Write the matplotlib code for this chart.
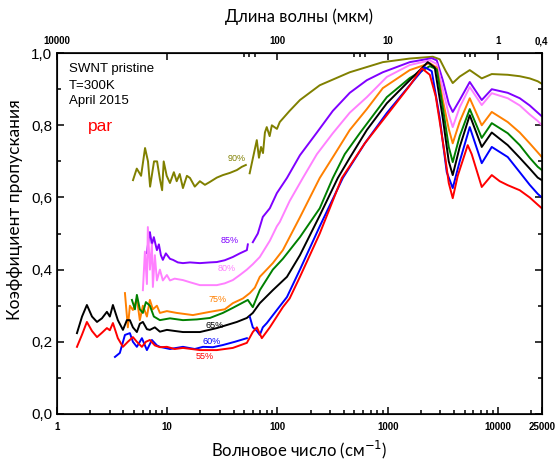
import numpy as np
import matplotlib
matplotlib.use('Agg')
import matplotlib.pyplot as plt
from matplotlib.ticker import FixedLocator, NullFormatter

plt.rcParams['font.family'] = ['Liberation Sans', 'DejaVu Sans']

# --- data (wavenumber cm^-1, transmission) ---
wn90a = [4.9, 5.3, 5.8, 6.3, 6.7, 7.0, 7.6, 8.1, 8.6, 9.0, 9.3, 9.9, 10.6, 11.5, 12.2, 13.0, 13.9, 15.1, 16.1, 17.8,
         19.8, 22.0, 24.4, 28.2, 32.0, 37.0, 42.9, 47.6, 51.7]
T90a = [0.648, 0.68, 0.66, 0.737, 0.70, 0.63, 0.70, 0.70, 0.65, 0.62, 0.70, 0.66, 0.64, 0.67, 0.645, 0.665, 0.626, 0.66,
        0.654, 0.63, 0.645, 0.635, 0.643, 0.655, 0.662, 0.668, 0.676, 0.685, 0.69]
wn90b = [56, 61, 65, 68, 71, 74, 77, 80, 85, 89, 99, 105, 129, 160, 242, 453, 903, 1585, 2565, 2965, 3365, 3890, 4500,
         5550, 7130, 8790, 12270, 15770, 19410, 22950, 25000]
T90b = [0.667, 0.72, 0.759, 0.71, 0.74, 0.723, 0.78, 0.795, 0.77, 0.80, 0.79, 0.809, 0.84, 0.87, 0.911, 0.947, 0.975,
        0.985, 0.99, 0.983, 0.95, 0.917, 0.935, 0.953, 0.93, 0.942, 0.94, 0.936, 0.93, 0.922, 0.915]

wn85a = [6.55, 6.83, 6.97, 7.27, 7.57, 8.07, 8.41, 8.77, 9.14, 9.73, 10.6, 11.3, 12.5, 13.9, 16.1, 19.8, 24.4, 28.2,
         33.3, 39.4, 45.6, 52.8, 53.9]
T85a = [0.446, 0.49, 0.504, 0.47, 0.49, 0.454, 0.47, 0.44, 0.427, 0.445, 0.43, 0.427, 0.42, 0.418, 0.42, 0.418, 0.42,
        0.421, 0.426, 0.435, 0.445, 0.454, 0.47]
wn85b = [59.8, 66.4, 73.7, 85.3, 98.8, 122, 160, 228, 318, 453, 647, 903, 1585, 2510, 2787, 3160, 3580, 3890, 4500,
         5550, 7130, 8790, 12270, 15770, 19410, 22950, 25000]
T85b = [0.476, 0.50, 0.546, 0.57, 0.612, 0.654, 0.717, 0.78, 0.84, 0.89, 0.925, 0.947, 0.975, 0.986, 0.98, 0.925, 0.86,
        0.837, 0.87, 0.92, 0.87, 0.90, 0.89, 0.875, 0.855, 0.835, 0.825]

wn80 = [6.02, 6.28, 6.55, 6.68, 6.97, 7.27, 7.42, 7.73, 8.07, 8.59, 9.14, 9.94, 10.6, 11.7, 13.9, 16.1, 19.8, 24.4,
        28.2, 33.3, 39.4, 45.6, 52.8,
        59.8, 69.2, 85.3, 98.8, 105, 129, 170, 228, 318, 453, 647, 982, 1585, 2410, 2787, 3160, 3580, 3890, 4500,
        5550, 7130, 8790, 12270, 15770, 19410, 22950, 25000]
T80 = [0.343, 0.45, 0.36, 0.518, 0.40, 0.47, 0.352, 0.44, 0.37, 0.40, 0.37, 0.385, 0.37, 0.375, 0.371, 0.365, 0.357,
       0.357, 0.357, 0.362, 0.371, 0.385, 0.40,
       0.415, 0.435, 0.48, 0.52, 0.532, 0.59, 0.654, 0.72, 0.778, 0.835, 0.878, 0.934, 0.967, 0.98, 0.97, 0.90, 0.83,
       0.795, 0.85, 0.906, 0.856, 0.889, 0.875, 0.855, 0.83, 0.812, 0.80]

wn75 = [4.14, 4.40, 4.59, 4.89, 5.31, 5.65, 6.02, 6.55, 6.97, 7.42, 8.07, 8.59, 9.94, 12.2, 17.1, 24.4, 33.3, 39.4,
        48.6, 56.2, 62.4, 69.2, 90.8, 112, 160, 242, 331, 453, 647, 903, 1585, 2410, 2787, 3160, 3580, 3890, 4500,
        5550, 7130, 8790, 12270, 15770, 19410, 22950, 25000]
T75 = [0.335, 0.24, 0.30, 0.288, 0.32, 0.26, 0.30, 0.27, 0.316, 0.29, 0.30, 0.28, 0.285, 0.28, 0.274, 0.283, 0.29,
       0.307, 0.32, 0.335, 0.35, 0.38, 0.418, 0.454, 0.545, 0.654, 0.72, 0.787, 0.845, 0.903, 0.953, 0.972, 0.96,
       0.87, 0.79, 0.75, 0.81, 0.875, 0.80, 0.837, 0.809, 0.78, 0.75, 0.725, 0.712]

wn70 = [4.79, 5.10, 5.31, 5.65, 6.02, 6.41, 6.97, 7.57, 8.59, 10.6, 13.9, 18.6, 24.4, 32.0, 39.4, 53.9, 59.8, 69.2,
        90.8, 112, 160, 242, 318, 408, 558, 982, 1585, 2410, 2787, 3160, 3580, 3890, 4500, 5550, 7130, 8790, 12270,
        15770, 19410, 22950, 25000]
T70 = [0.316, 0.29, 0.33, 0.29, 0.28, 0.31, 0.30, 0.27, 0.26, 0.265, 0.26, 0.262, 0.266, 0.28, 0.294, 0.316, 0.296,
       0.343, 0.40, 0.43, 0.49, 0.57, 0.654, 0.72, 0.778, 0.878, 0.931, 0.964, 0.955, 0.85, 0.74, 0.698, 0.77, 0.845,
       0.765, 0.806, 0.778, 0.745, 0.71, 0.685, 0.676]

wn65 = [1.52, 1.69, 1.87, 2.08, 2.31, 2.56, 2.84, 3.02, 3.22, 3.57, 3.97, 4.31, 4.59, 4.89, 5.31, 5.65, 6.02, 6.55,
        6.97, 7.73, 8.59, 9.94, 11.7, 13.9, 19.8, 28.2, 42.9, 52.8, 59.8, 69.2, 90.8, 122, 160, 242, 353, 453, 647,
        982, 1585, 2310, 2673, 3160, 3580, 3890, 4500, 5550, 7130, 8790, 12270, 15770, 19410, 22950, 25000]
T65 = [0.224, 0.27, 0.302, 0.27, 0.255, 0.265, 0.283, 0.27, 0.302, 0.26, 0.233, 0.26, 0.26, 0.24, 0.227, 0.25, 0.255,
       0.235, 0.233, 0.24, 0.228, 0.233, 0.23, 0.227, 0.227, 0.238, 0.255, 0.266, 0.28, 0.307, 0.343, 0.38, 0.44,
       0.55, 0.654, 0.71, 0.787, 0.861, 0.925, 0.975, 0.96, 0.82, 0.70, 0.662, 0.74, 0.828, 0.74, 0.78, 0.745, 0.71,
       0.68, 0.655, 0.648]

wn60a = [3.36, 3.72, 4.14, 4.59, 4.89, 5.31, 5.90, 6.55, 7.27, 8.07, 8.59, 10.6, 13.9, 17.8, 21.1, 26.0, 32.0, 41.1,
         52.8]
T60a = [0.158, 0.169, 0.219, 0.224, 0.20, 0.186, 0.21, 0.177, 0.205, 0.19, 0.186, 0.18, 0.186, 0.18, 0.186, 0.185,
        0.191, 0.2, 0.21]
wn60b = [56.2, 59.8, 65.1, 69.2, 73.7, 80.2, 98.8, 122, 160, 242, 392, 620, 982, 1585, 2170, 2510, 2965, 3433, 3890,
         4500, 5550, 7130, 8790, 12270, 15770, 19410, 22950, 25000]
T60b = [0.269, 0.24, 0.23, 0.219, 0.24, 0.252, 0.288, 0.324, 0.40, 0.52, 0.654, 0.75, 0.834, 0.911, 0.961, 0.95, 0.82,
        0.67, 0.626, 0.70, 0.795, 0.695, 0.74, 0.712, 0.67, 0.635, 0.61, 0.60]

wn55 = [1.52, 1.69, 1.87, 2.08, 2.31, 2.56, 2.84, 3.02, 3.22, 3.57, 3.97, 4.40, 4.89, 5.31, 5.90, 6.41, 6.97, 7.73,
        8.59, 9.94, 11.7, 13.9, 19.8, 28.2, 39.4, 52.8, 59.8, 65.1, 72.2, 85.3, 112, 129, 160, 242, 384, 620, 982,
        1585, 2038, 2410, 2729, 2965, 3294, 3580, 3890, 4318, 5320, 5780, 7130, 8790, 10380, 12270, 15770, 19410,
        22950, 25000]
T55 = [0.186, 0.22, 0.255, 0.23, 0.213, 0.225, 0.238, 0.232, 0.252, 0.21, 0.186, 0.20, 0.213, 0.20, 0.186, 0.20,
       0.205, 0.19, 0.185, 0.186, 0.18, 0.183, 0.177, 0.177, 0.183, 0.197, 0.227, 0.24, 0.21, 0.24, 0.296, 0.32, 0.38,
       0.50, 0.654, 0.75, 0.828, 0.91, 0.958, 0.94, 0.88, 0.81, 0.72, 0.64, 0.598, 0.66, 0.745, 0.72, 0.629, 0.662,
       0.645, 0.634, 0.62, 0.60, 0.58, 0.57]

# curve labels: text, x, y
labels = [("90%", 42.9, 0.709), ("85%", 37.0, 0.482), ("80%", 34.8, 0.404), ("75%", 28.8, 0.316),
          ("65%", 27.0, 0.246), ("60%", 25.4, 0.200), ("55%", 22.0, 0.158)]

# top axis: wavelength in um
top_major = [10000, 1000, 100, 10, 1, 0.4]
top_labels = ["10000", "", "100", "10", "1", "0,4"]
top_minor = [200, 180, 160, 20, 18, 16, 2, 1.8, 1.6]

c90, c85, c80, c75 = '#808000', '#8000ff', '#ff80ff', '#ff8000'
c70, c65, c60, c55 = '#008000', '#000000', '#0000ff', '#ff0000'

fig = plt.figure(figsize=(5.58, 4.62), dpi=100)
ax = fig.add_axes([0.102, 0.104, 0.869, 0.781])

lw = 1.4
ax.plot(wn90a, T90a, color=c90, lw=lw)
ax.plot(wn90b, T90b, color=c90, lw=lw)
ax.plot(wn85a, T85a, color=c85, lw=lw)
ax.plot(wn85b, T85b, color=c85, lw=lw)
ax.plot(wn80, T80, color=c80, lw=lw)
ax.plot(wn75, T75, color=c75, lw=lw)
ax.plot(wn70, T70, color=c70, lw=lw)
ax.plot(wn65, T65, color=c65, lw=lw)
ax.plot(wn60a, T60a, color=c60, lw=lw)
ax.plot(wn60b, T60b, color=c60, lw=lw)
ax.plot(wn55, T55, color=c55, lw=lw)

for (txt, x, y), c in zip(labels, [c90, c85, c80, c75, c65, c60, c55]):
    ax.text(x, y, txt, color=c, fontsize=6.5, ha='center', va='center')

ax.set_xscale('log')
ax.set_xlim(1, 25000)
ax.set_ylim(0, 1.0)

ax.set_xticks([1, 10, 100, 1000, 10000, 25000])
ax.set_xticklabels(["1", "10", "100", "1000", "10000", "25000"], fontsize=7, fontweight='bold')
minor = [m * 10 ** k for k in range(0, 5) for m in range(2, 10) if m * 10 ** k < 25000]
ax.xaxis.set_minor_locator(FixedLocator(minor))
ax.xaxis.set_minor_formatter(NullFormatter())

ax.set_yticks([0, 0.2, 0.4, 0.6, 0.8, 1.0])
ax.set_yticklabels(["0,0", "0,2", "0,4", "0,6", "0,8", "1,0"], fontsize=11)
ax.yaxis.set_minor_locator(FixedLocator([0.1, 0.3, 0.5, 0.7, 0.9]))

ax.tick_params(which='both', direction='in', top=False, right=True, width=1.1)
ax.tick_params(which='major', length=5)
ax.tick_params(which='minor', length=3)
ax.tick_params(axis='x', pad=6)
for s in ax.spines.values():
    s.set_linewidth(1.2)

ax2 = ax.twiny()
ax2.set_xscale('log')
ax2.set_xlim(1, 25000)
ax2.set_xticks([1e4 / w for w in top_major])
ax2.set_xticklabels(top_labels, fontsize=7, fontweight='bold')
ax2.xaxis.set_minor_locator(FixedLocator([1e4 / w for w in top_minor]))
ax2.xaxis.set_minor_formatter(NullFormatter())
ax2.tick_params(which='both', direction='in', width=1.1)
ax2.tick_params(which='major', length=5, pad=5)
ax2.tick_params(which='minor', length=3)

lab_font = ['Lato', 'DejaVu Sans']
ax.set_xlabel("Волновое число (см$^{-1}$)", fontsize=12, family=lab_font, labelpad=5)
ax.set_ylabel("Коэффициент пропускания", fontsize=12.5, family=lab_font)
ax.yaxis.set_label_coords(-0.07, 0.565)
ax2.set_xlabel("Длина волны (мкм)", fontsize=12, family=lab_font, labelpad=10)

ax.text(0.025, 0.956, "SWNT pristine", transform=ax.transAxes, fontsize=9.5, va='center')
ax.text(0.025, 0.909, "T=300K", transform=ax.transAxes, fontsize=9.5, va='center')
ax.text(0.025, 0.867, "April 2015", transform=ax.transAxes, fontsize=9.5, va='center')
ax.text(0.064, 0.798, "par", transform=ax.transAxes, fontsize=12.5, color='red', va='center')

fig.savefig('out.png', dpi=100)
